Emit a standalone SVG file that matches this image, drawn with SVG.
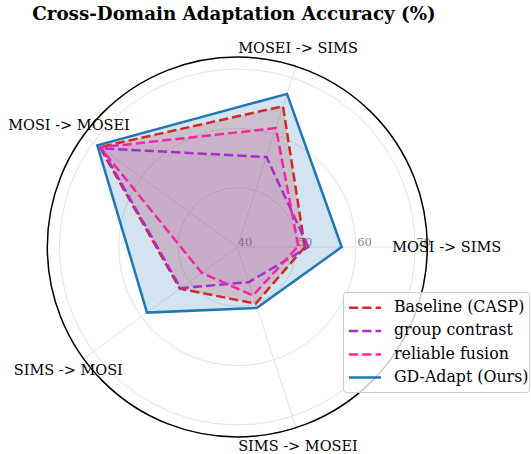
<svg xmlns="http://www.w3.org/2000/svg" width="531" height="454" viewBox="0 0 531 454">
<style>
.grid{fill:none;stroke:#e3e3e3;stroke-width:1}
.tick{font-family:"DejaVu Serif",serif;font-size:11.5px;fill:#8c8c8c;text-anchor:middle}
.lab{font-family:"DejaVu Serif",serif;font-size:14.5px;fill:#000;text-anchor:middle}
.leg{font-family:"DejaVu Serif",serif;font-size:15.8px;fill:#000}
.dash{fill:none;stroke-width:2.5;stroke-dasharray:9.25 4;stroke-linejoin:miter}
.red{stroke:#d62728}
.pur{stroke:#a82dca}
.pnk{stroke:#f724a9}
.blu{stroke:#1f77b4;stroke-width:2.5;fill:none}
</style>
<rect width="531" height="454" fill="#fff"/>
<text x="234" y="20" font-family="DejaVu Serif,serif" font-weight="bold" font-size="18.3" text-anchor="middle">Cross-Domain Adaptation Accuracy (%)</text>
<g id="grid">
<circle class="grid" cx="237.3" cy="247" r="59.3"/>
<circle class="grid" cx="237.3" cy="247" r="118.6"/>
<circle class="grid" cx="237.3" cy="247" r="177.9"/>
<path class="grid" d="M237.3 247L427.3 247M237.3 247L296.01 66.3M237.3 247L83.59 135.32M237.3 247L83.59 358.68M237.3 247L296.01 427.7"/>
</g>
<g id="ticks">
<text class="tick" x="245" y="246">40</text>
<text class="tick" x="305" y="246">50</text>
<text class="tick" x="364.5" y="246">60</text>
<text class="tick" x="423.5" y="246">70</text>
</g>
<g id="fills">
<polygon id="fill-baseline" points="304.8,247 283,106.2 99.77,147.08 179.86,288.73 255.69,303.59" fill="#d62728" fill-opacity="0.2"/>
<polygon id="fill-group" points="308.3,247 266.53,157.03 101.55,148.37 180.67,288.15 248.73,282.19" fill="#a82dca" fill-opacity="0.06"/>
<polygon id="fill-reliable" points="298.3,246 275.93,128.12 100.17,147.37 201.7,272.86 253.06,295.5" fill="#f724a9" fill-opacity="0.1"/>
<polygon id="fill-gdadapt" points="341.7,247 287.05,93.9 97.34,145.31 147,312.6 257.08,307.87" fill="#1f77b4" fill-opacity="0.2"/>
</g>
<g id="connectors">
<polygon id="line-baseline" class="dash red" points="304.8,247 283,106.2 99.77,147.08 179.86,288.73 255.69,303.59"/>
<polygon id="line-group" class="dash pur" points="308.3,247 266.53,157.03 101.55,148.37 180.67,288.15 248.73,282.19"/>
<polygon id="line-reliable" class="dash pnk" points="298.3,246 275.93,128.12 100.17,147.37 201.7,272.86 253.06,295.5"/>
<polygon id="line-gdadapt" class="blu" points="341.7,247 287.05,93.9 97.34,145.31 147,312.6 257.08,307.87"/>
</g>
<circle cx="237.3" cy="247" r="190" fill="none" stroke="#000" stroke-width="1.5"/>
<g id="axis-labels">
<text class="lab" id="n-mosi-sims" x="446.7" y="251.7">MOSI -&gt; SIMS</text>
<text class="lab" id="n-mosei-sims" x="298" y="53">MOSEI -&gt; SIMS</text>
<text class="lab" id="n-mosi-mosei" x="69" y="130">MOSI -&gt; MOSEI</text>
<text class="lab" id="n-sims-mosi" x="68.3" y="375">SIMS -&gt; MOSI</text>
<text class="lab" id="n-sims-mosei" x="298" y="450.5">SIMS -&gt; MOSEI</text>
</g>
<g id="legend">
<rect x="343.5" y="292.5" width="186" height="100" rx="3" fill="#fff" fill-opacity="0.8" stroke="#cccccc" stroke-width="1"/>
<line class="dash red" x1="349" y1="307.7" x2="381" y2="307.7"/>
<line class="dash pur" x1="349" y1="331" x2="381" y2="331"/>
<line class="dash pnk" x1="349" y1="354.5" x2="381" y2="354.5"/>
<line class="blu" x1="349" y1="377.5" x2="381" y2="377.5"/>
<text class="leg" x="394" y="312">Baseline (CASP)</text>
<text class="leg" x="394" y="335">group contrast</text>
<text class="leg" x="394" y="358.5">reliable fusion</text>
<text class="leg" x="394" y="382">GD-Adapt (Ours)</text>
</g>
</svg>
